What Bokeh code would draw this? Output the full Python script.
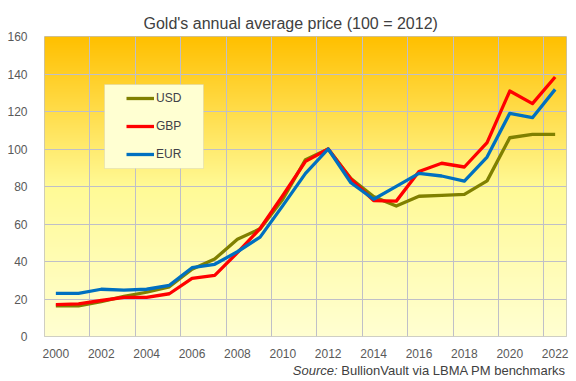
import numpy as np
from bokeh.plotting import figure
from bokeh.layouts import column
from bokeh.models import (FixedTicker, Legend, LegendItem, BoxAnnotation, Range1d, Div)
from bokeh.embed import file_html
from bokeh.resources import INLINE

# ---- data (index, 2012 = 100) ----
years = list(range(2000, 2023))
usd = [16.3, 16.3, 18.6, 21.4, 23.6, 26.5, 35.9, 41.3, 51.9, 57.4, 73.2, 94.3, 100,
       84.2, 74.6, 69.6, 74.8, 75.3, 75.8, 83.0, 106.0, 107.8, 107.8]
gbp = [17.0, 17.4, 19.2, 20.9, 20.9, 22.8, 31.0, 32.6, 44.7, 57.6, 75.2, 93.4, 100,
       84.0, 72.5, 72.2, 88.0, 92.4, 90.4, 103.4, 130.9, 124.2, 138.4]
eur = [23.0, 23.0, 25.2, 24.7, 25.2, 27.3, 36.7, 38.5, 45.2, 53.0, 69.8, 87.0, 100,
       82.0, 73.2, 80.1, 87.0, 85.6, 82.9, 95.7, 119.0, 116.7, 131.8]
x_ticks = list(range(2000, 2023, 2))
y_ticks = list(range(0, 161, 20))
series_names = ["USD", "GBP", "EUR"]
series_colors = ["#808000", "#FF0000", "#0070C0"]

x_lo, x_hi = years[0] - 0.5, years[-1] + 0.5
y_lo, y_hi = y_ticks[0], y_ticks[-1]

FONT = "Liberation Sans"

p = figure(width=576, height=362, output_backend="svg", toolbar_location=None,
           x_range=Range1d(x_lo, x_hi), y_range=Range1d(y_lo, y_hi),
           min_border_left=44, min_border_right=10, min_border_top=36, min_border_bottom=26,
           title="Gold's annual  average price (100 = 2012)")
p.background_fill_color = "white"
p.border_fill_color = "white"
p.outline_line_color = "#BFBFBF"
p.outline_line_width = 1

p.title.text_font = FONT
p.title.text_font_size = "16px"
p.title.text_font_style = "normal"
p.title.text_color = "#404040"
p.title.align = "left"
p.title.offset = 99
p.title.standoff = 9

# gradient background of the plot area
n = 300
t = np.linspace(0, 1, n)  # 0 = bottom, 1 = top
stops_t = [0.0, 0.5, 1.0]
stops_r = [255, 255, 255]
stops_g = [255, 250, 192]
stops_b = [210, 150, 0]
r = np.interp(t, stops_t, stops_r)
g = np.interp(t, stops_t, stops_g)
b = np.interp(t, stops_t, stops_b)
img = np.empty((n, 1), dtype=np.uint32)
view = img.view(dtype=np.uint8).reshape((n, 1, 4))
view[:, 0, 0] = r.astype(np.uint8)
view[:, 0, 1] = g.astype(np.uint8)
view[:, 0, 2] = b.astype(np.uint8)
view[:, 0, 3] = 255
p.image_rgba(image=[img], x=x_lo, y=y_lo, dw=x_hi - x_lo, dh=y_hi - y_lo, level="image")

# axes
for ax in (p.xaxis, p.yaxis):
    ax.axis_line_color = None
    ax.major_tick_line_color = None
    ax.minor_tick_line_color = None
    ax.major_label_text_font = FONT
    ax.major_label_text_font_size = "12px"
    ax.major_label_text_color = "#595959"
p.xaxis.ticker = FixedTicker(ticks=x_ticks)
p.yaxis.ticker = FixedTicker(ticks=y_ticks)
p.xaxis.major_label_standoff = 6
p.yaxis.major_label_standoff = 11

p.xgrid.ticker = FixedTicker(ticks=[v - 0.5 for v in x_ticks[1:]])
p.ygrid.ticker = FixedTicker(ticks=y_ticks)
for gr in (p.xgrid, p.ygrid):
    gr.grid_line_color = "#BFBFC8"
    gr.grid_line_width = 1
    gr.level = "image"

renderers = []
for vals, col in zip([usd, gbp, eur], series_colors):
    rr = p.line(years, vals, line_color=col, line_width=3.3, line_join="round")
    renderers.append(rr)

# legend box
box = BoxAnnotation(left=60, right=159, top=252, bottom=168,
                    left_units="screen", right_units="screen",
                    top_units="screen", bottom_units="screen",
                    fill_color="#FFFFD2", fill_alpha=1.0,
                    line_color="#BFBFBF", line_width=1, level="annotation")
p.add_layout(box)

legend = Legend(items=[LegendItem(label=nm, renderers=[rr]) for nm, rr in zip(series_names, renderers)],
                location=(82, 172), padding=0, spacing=8, glyph_height=20, label_height=20,
                glyph_width=28, label_standoff=2, background_fill_alpha=0, border_line_alpha=0,
                label_text_font=FONT, label_text_font_size="12px", label_text_color="#404048",
                margin=0)
p.add_layout(legend)

source = Div(text="<i>Source:</i> BullionVault via LBMA PM benchmarks",
             width=576, height=18, margin=(0, 0, 0, 0),
             styles={"text-align": "right", "font-family": FONT, "font-size": "13px",
                     "color": "#404040", "padding-right": "11px", "line-height": "18px",
                     "box-sizing": "border-box", "width": "576px"})

layout = column(p, source, spacing=0)
open("out.html", "w").write(file_html(layout, INLINE))
